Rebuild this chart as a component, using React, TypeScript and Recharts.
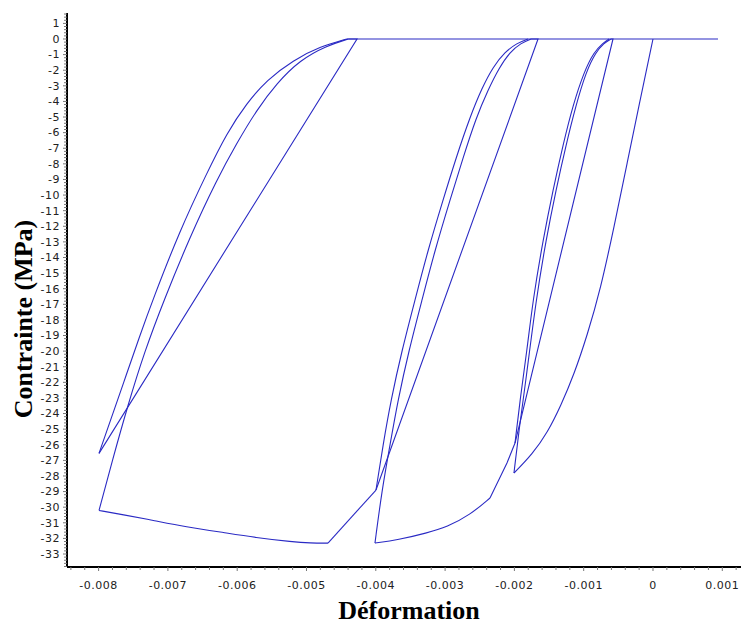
import React from 'react';
import { LineChart, Line, XAxis, YAxis } from 'recharts';

// ---- Branches of the cyclic compression test (strain [-], stress [MPa]) ----
// first loading along the envelope up to -0.002
const loading1Strain = [0, -0.00019, -0.000375, -0.00056, -0.000755, -0.00095, -0.00114, -0.00133, -0.00152, -0.00174, -0.002006];
const loading1Stress = [0, -4, -8, -12, -16, -19, -21.5, -23.5, -25.2, -26.6, -27.81];

// unloading from the envelope point at -0.002
const unload1aStrain = [-0.002006, -0.001934, -0.001833, -0.001688, -0.001544, -0.0014, -0.001255, -0.001111, -0.000967, -0.000823, -0.000707, -0.000606];
const unload1aStress = [-27.81, -25.05, -21.85, -16.72, -12.88, -9.68, -6.79, -4.23, -2.11, -0.83, -0.26, 0];

// linear reloading of cycle 1
const reload1Strain = [-0.000606, -0.000577, -0.001991];
const reload1Stress = [0, 0, -25.89];

// second unloading of cycle 1
const unload1bStrain = [-0.001991, -0.001919, -0.001818, -0.001732, -0.001587, -0.001443, -0.001299, -0.001154, -0.000996, -0.000851, -0.000722, -0.000635];
const unload1bStress = [-25.89, -23.13, -19.93, -16.72, -12.88, -9.68, -6.79, -4.23, -2.11, -0.83, -0.26, 0];

// return to the envelope, up to -0.004 (straight start, then curved)
const transition1LineStrain = [-0.001991, -0.002107, -0.002352];
const transition1LineStress = [-25.89, -27.17, -29.41];
const transition1CurveStrain = [-0.002352, -0.002641, -0.002973, -0.003261, -0.00368, -0.004012];
const transition1CurveStress = [-29.41, -30.5, -31.27, -31.65, -32.1, -32.3];

// unloading from -0.004
const unload2aStrain = [-0.004012, -0.003911, -0.003795, -0.00368, -0.003521, -0.003333, -0.003146, -0.002929, -0.002742, -0.002554, -0.002381, -0.002222, -0.002063, -0.001905, -0.00176];
const unload2aStress = [-32.3, -28.9, -26.02, -23.13, -19.93, -16.72, -13.52, -10.32, -7.63, -5.06, -3.27, -1.86, -0.83, -0.26, 0];

// linear reloading of cycle 2
const reload2Strain = [-0.00176, -0.001659, -0.003997];
const reload2Stress = [0, 0, -28.9];

// second unloading of cycle 2
const unload2bStrain = [-0.003997, -0.003896, -0.003781, -0.003622, -0.003434, -0.003247, -0.00303, -0.002843, -0.002641, -0.002468, -0.002309, -0.002136, -0.001963, -0.001804];
const unload2bStress = [-28.9, -26.02, -23.13, -19.93, -16.72, -13.52, -10.32, -7.63, -5.0, -3.14, -1.79, -0.83, -0.26, 0];

// envelope after cycle 2, down to -0.008 (straight start, then curved)
const envelope2LineStrain = [-0.003997, -0.00469];
const envelope2LineStress = [-28.9, -32.3];
const envelope2CurveStrain = [-0.00469, -0.004949, -0.005195, -0.005743, -0.006176, -0.006753, -0.007186, -0.007662, -0.007994];
const envelope2CurveStress = [-32.3, -32.3, -32.23, -31.94, -31.64, -31.25, -30.87, -30.47, -30.21];

// unloading from -0.008
const unload3aStrain = [-0.007994, -0.007801, -0.00758, -0.007335, -0.007056, -0.006681, -0.006296, -0.006007, -0.005719, -0.00543, -0.005094, -0.004709, -0.004397];
const unload3aStress = [-30.21, -27, -23.5, -20, -16.72, -12.67, -9.03, -6.68, -4.55, -2.84, -1.35, -0.43, 0];

// linear reloading of cycle 3
const reload3Strain = [-0.004397, -0.004271, -0.007994];
const reload3Stress = [0, 0, -26.55];

// second unloading of cycle 3
const unload3bStrain = [-0.007994, -0.007792, -0.007605, -0.007417, -0.007219, -0.006825, -0.00644, -0.006152, -0.005863, -0.005574, -0.00519, -0.004805, -0.00442];
const unload3bStress = [-26.55, -23.97, -21.59, -19.16, -16.72, -12.24, -8.61, -6.04, -4.12, -2.63, -1.35, -0.49, 0];

// zero-stress branch at the end
const tailStrain = [-0.00442, 0.000938];
const tailStress = [0, 0];

// ---- Axes ----
const xMajorTicks = [-0.008, -0.007, -0.006, -0.005, -0.004, -0.003, -0.002, -0.001, 0, 0.001];
const xTickLabels = ['-0.008', '-0.007', '-0.006', '-0.005', '-0.004', '-0.003', '-0.002', '-0.001', '0', '0.001'];
const yMajorTicks = [1, 0, -1, -2, -3, -4, -5, -6, -7, -8, -9, -10, -11, -12, -13, -14, -15, -16, -17, -18, -19, -20, -21, -22, -23, -24, -25, -26, -27, -28, -29, -30, -31, -32, -33];
const yTickLabels = yMajorTicks.map(String);

const xTitle = 'Déformation';
const yTitle = 'Contrainte (MPa)';

const X_DOMAIN: [number, number] = [-0.008456, 0.00127];
const Y_DOMAIN: [number, number] = [-33.833, 1.666];

const toPoints = (s: number[], t: number[]) => s.map((x, i) => ({ x, y: t[i] }));

// [strain, stress, curve type]
const branches: [number[], number[], string][] = [
  [loading1Strain, loading1Stress, 'basis'],
  [unload1aStrain, unload1aStress, 'basis'],
  [reload1Strain, reload1Stress, 'linear'],
  [unload1bStrain, unload1bStress, 'basis'],
  [transition1LineStrain, transition1LineStress, 'linear'],
  [transition1CurveStrain, transition1CurveStress, 'basis'],
  [unload2aStrain, unload2aStress, 'basis'],
  [reload2Strain, reload2Stress, 'linear'],
  [unload2bStrain, unload2bStress, 'basis'],
  [envelope2LineStrain, envelope2LineStress, 'linear'],
  [envelope2CurveStrain, envelope2CurveStress, 'basis'],
  [unload3aStrain, unload3aStress, 'basis'],
  [reload3Strain, reload3Stress, 'linear'],
  [unload3bStrain, unload3bStress, 'basis'],
  [tailStrain, tailStress, 'linear'],
];

// minor tick positions (decoration between the major ticks)
const xAllTicks: number[] = [];
for (let i = 0; ; i++) {
  const v = Math.round((-0.0084 + i * 0.0002) * 1e6) / 1e6;
  if (v > X_DOMAIN[1]) break;
  xAllTicks.push(v);
}
const yAllTicks: number[] = [];
for (let i = 0; ; i++) {
  const v = Math.round((-33.8 + i * 0.2) * 10) / 10;
  if (v > Y_DOMAIN[1]) break;
  yAllTicks.push(v);
}

const tickFont = { fontFamily: '"DejaVu Sans", Verdana, sans-serif', fontSize: 11, letterSpacing: 0.5, fill: '#222' };

const XTick = (props: any) => {
  const { x, y, payload } = props;
  const idx = xMajorTicks.findIndex((m) => Math.abs(m - payload.value) < 1e-9);
  const major = idx >= 0;
  return (
    <g>
      <line x1={x} x2={x} y1={y} y2={y + (major ? 4 : 3)} stroke="#777" strokeWidth={1} />
      {major && (
        <text x={x} y={y + 18} textAnchor="middle" dy="0.35em" style={tickFont as any}>
          {xTickLabels[idx]}
        </text>
      )}
    </g>
  );
};

const YTick = (props: any) => {
  const { x, y, payload } = props;
  const idx = yMajorTicks.findIndex((m) => Math.abs(m - payload.value) < 1e-9);
  const major = idx >= 0;
  return (
    <g>
      <line x1={x - (major ? 4 : 3)} x2={x} y1={y} y2={y} stroke="#777" strokeWidth={1} />
      {major && (
        <text x={x - 7} y={y} textAnchor="end" dy="0.35em" style={tickFont as any}>
          {yTickLabels[idx]}
        </text>
      )}
    </g>
  );
};

const titleStyle = { fontFamily: '"Liberation Serif", "Times New Roman", serif', fontWeight: 700, fontSize: 26, fill: '#000' };

const XTitle = () => (
  <text x={409} y={619} textAnchor="middle" style={titleStyle as any}>
    {xTitle}
  </text>
);

const YTitle = () => (
  <text transform="translate(32,319) rotate(-90)" x={0} y={0} textAnchor="middle" style={titleStyle as any}>
    {yTitle}
  </text>
);

export default function App() {
  return (
    <div style={{ position: 'absolute', left: 0, top: 0, width: 741, height: 626, background: '#fff' }}>
      <LineChart width={741} height={626} margin={{ top: 13, right: 0, bottom: 0, left: 0 }}>
        <XAxis
          type="number"
          dataKey="x"
          domain={X_DOMAIN}
          allowDataOverflow
          ticks={xAllTicks}
          interval={0}
          tickSize={0}
          tickMargin={0}
          tickLine={false}
          tick={XTick}
          axisLine={{ stroke: '#000', strokeWidth: 2 }}
          height={59}
          label={<XTitle />}
        />
        <YAxis
          type="number"
          domain={Y_DOMAIN}
          allowDataOverflow
          ticks={yAllTicks}
          interval={0}
          tickSize={0}
          tickMargin={0}
          tickLine={false}
          tick={YTick}
          axisLine={{ stroke: '#000', strokeWidth: 2 }}
          width={67}
          label={<YTitle />}
        />
        {branches.map(([s, t, curve], i) => (
          <Line
            key={i}
            data={toPoints(s, t)}
            type={curve as any}
            dataKey="y"
            stroke="#2a2ac4"
            strokeWidth={1.1}
            dot={false}
            activeDot={false}
            isAnimationActive={false}
          />
        ))}
      </LineChart>
    </div>
  );
}
